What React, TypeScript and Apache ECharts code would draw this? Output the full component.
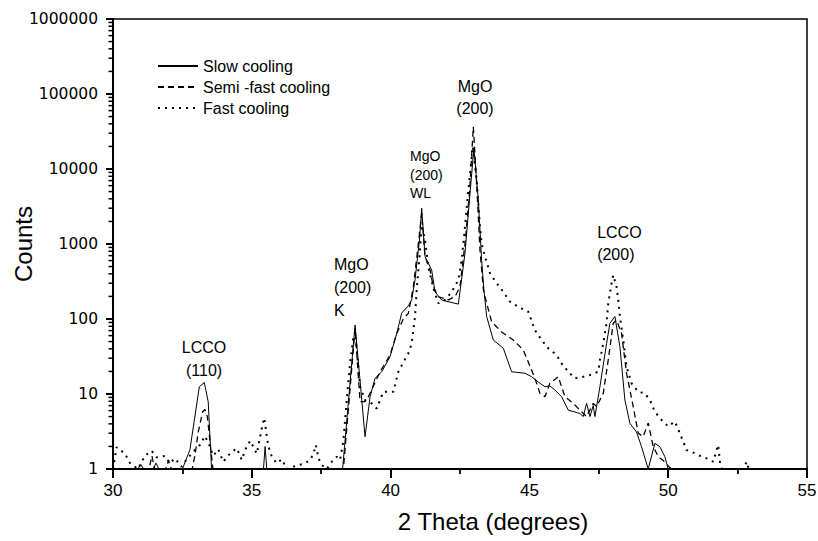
import React, { useEffect, useRef } from "react";
import * as echarts from "echarts";

const FONT = '"Liberation Sans", Arial, Helvetica, sans-serif';
const YFONT = '"DejaVu Sans", "Liberation Sans", sans-serif';

const seriesNames = ["Slow cooling", "Semi -fast cooling", "Fast cooling"];

const slowCooling: [number, number][] = [
  [30, 1], [30.9, 1], [31.0, 1.15], [31.1, 1], [31.45, 1], [31.55, 1.2], [31.65, 1], [32.5, 1],
  [32.77, 1.8], [33.11, 12.5], [33.29, 14.2], [33.43, 7.9], [33.55, 1], [35.42, 1], [35.48, 2.0],
  [35.54, 1], [38.27, 1], [38.72, 83], [39.08, 2.7], [39.26, 9.2], [39.44, 16.2], [39.68, 19.8],
  [39.98, 31.4], [40.22, 64], [40.4, 120], [40.64, 150], [40.76, 180], [40.88, 331], [41.04, 1133],
  [41.12, 3000], [41.24, 679], [41.36, 553], [41.48, 450], [41.6, 230], [41.84, 179], [42.44, 158],
  [42.68, 753], [42.86, 4700], [43.0, 18900], [43.16, 3870], [43.28, 600], [43.36, 250], [43.46, 108],
  [43.7, 52.5], [44.06, 40.7], [44.36, 19.8], [44.84, 18.9], [45.08, 17], [45.38, 13.9], [45.56, 12.5],
  [45.74, 12.8], [45.92, 11.3], [46.16, 9.2], [46.4, 6.1], [46.82, 5.5], [46.94, 5.0], [47.06, 7.5],
  [47.18, 5.0], [47.3, 7], [47.36, 5], [47.54, 12.5], [47.78, 47], [47.9, 87.6], [48.08, 108],
  [48.26, 42.8], [48.44, 8.3], [48.62, 4.07], [48.86, 3.1], [49.04, 1.98], [49.28, 1], [49.52, 2.2],
  [49.7, 1.98], [49.88, 1.46], [50.0, 1], [55, 1],
];

const semiFastCooling: [number, number][] = [
  [30, 1], [31.3, 1], [31.4, 1.5], [31.5, 1], [31.9, 1], [32.0, 1.3], [32.1, 1], [32.85, 1],
  [32.95, 1.5], [33.07, 3.1], [33.23, 5.8], [33.31, 6.2], [33.4, 5.0], [33.6, 1], [38.3, 1],
  [38.72, 75], [38.9, 7.9], [39.08, 7.9], [39.2, 9.2], [39.62, 19.8], [39.98, 33], [40.22, 64],
  [40.46, 101], [40.64, 119], [40.82, 270], [41.0, 1010], [41.12, 2560], [41.24, 680], [41.42, 450],
  [41.54, 270], [41.72, 198], [42.08, 180], [42.32, 198], [42.5, 270], [42.68, 1010], [42.84, 4700],
  [42.98, 36600], [43.1, 6400], [43.22, 830], [43.34, 250], [43.4, 198], [43.64, 92], [44.0, 67],
  [44.42, 52.5], [44.78, 38.6], [45.08, 20.9], [45.26, 13.9], [45.38, 10.2], [45.56, 9.2],
  [45.74, 13.9], [46.04, 17], [46.28, 9.2], [46.58, 7.5], [46.82, 6.1], [47.06, 5.0], [47.3, 7.5],
  [47.42, 6.8], [47.66, 10.2], [47.84, 28.4], [48.02, 88], [48.14, 97], [48.32, 64], [48.5, 18.9],
  [48.74, 6.8], [48.92, 3.0], [49.1, 2.7], [49.28, 4.1], [49.46, 2.0], [49.64, 1.46], [49.82, 1.3],
  [50.0, 1.1], [50.12, 1], [55, 1],
];

const fastCooling: [number, number][] = [
  [30, 1], [30.13, 1.95], [30.43, 1.6], [30.61, 1.2], [30.9, 1], [31.15, 1.5], [31.39, 1.75],
  [31.57, 1.43], [31.87, 1.49], [32.05, 1.19], [32.23, 1.39], [32.47, 1.07], [32.65, 1.34],
  [32.95, 1.79], [33.13, 2.09], [33.31, 2.75], [33.47, 2.09], [33.61, 1.5], [33.79, 1.83],
  [33.97, 1.25], [34.21, 1.6], [34.46, 1.89], [34.64, 1.32], [34.76, 1.79], [34.94, 2.38],
  [35.18, 1.6], [35.36, 3.5], [35.45, 4.8], [35.54, 2.7], [35.6, 2.0], [35.72, 1.46], [35.9, 1.19],
  [36.08, 1.35], [36.26, 1], [36.68, 1.13], [36.92, 1.19], [37.1, 1.32], [37.22, 1.6], [37.31, 2.09],
  [37.4, 1.39], [37.52, 1.13], [37.7, 1], [37.88, 1.25], [38.06, 1.46], [38.18, 1.32], [38.3, 2.4],
  [38.42, 8.3], [38.54, 25.6], [38.66, 58], [38.72, 67], [38.78, 38.6], [38.9, 12.5], [39.08, 8.3],
  [39.32, 7.5], [39.5, 6.4], [39.62, 8.3], [39.74, 10.7], [40.1, 10.7], [40.28, 19.8], [40.46, 26.6],
  [40.64, 34.8], [40.76, 47], [40.88, 108], [40.94, 244], [41.04, 680], [41.12, 1800], [41.24, 1130],
  [41.36, 500], [41.54, 256], [41.72, 162], [41.96, 180], [42.2, 230], [42.44, 330], [42.56, 610],
  [42.68, 1700], [42.8, 5200], [42.96, 20000], [43.1, 7100], [43.22, 1700], [43.28, 1010],
  [43.4, 680], [43.58, 407], [43.82, 300], [44.06, 230], [44.3, 170], [44.6, 145], [44.96, 125],
  [45.2, 71], [45.44, 52.5], [45.68, 40.7], [45.98, 33], [46.16, 25.6], [46.4, 19.8], [46.64, 16.2],
  [46.94, 17], [47.18, 17.9], [47.48, 19.8], [47.54, 28.4], [47.66, 47], [47.78, 88], [47.84, 162],
  [47.9, 219], [47.96, 300], [48.02, 385], [48.14, 270], [48.2, 180], [48.26, 108], [48.38, 52.5],
  [48.5, 23.1], [48.68, 13.9], [48.92, 10.7], [49.16, 10.2], [49.34, 8.3], [49.52, 5.8], [49.76, 4.5],
  [50.0, 3.7], [50.24, 4.3], [50.42, 3.0], [50.66, 1.79], [50.84, 1.7], [51.14, 1.5], [51.38, 1.39],
  [51.62, 1.25], [51.8, 2.09], [51.87, 1.19], [51.93, 1], [52.7, 1], [52.83, 1.25], [52.9, 1], [55, 1],
];

const xTicks = [30, 35, 40, 45, 50, 55];
const yDecades = [1, 10, 100, 1000, 10000, 100000, 1000000];
const yAxisTitle = "Counts";

// annotation: text, anchor x (2θ), anchor y (counts), alignment, font size, line height
const annotations = [
  { text: "LCCO\n(110)", x: 33.28, y: 60, align: "center", size: 16, lh: 23 },
  { text: "MgO\n(200)\nK", x: 37.96, y: 770, align: "left", size: 16, lh: 23 },
  { text: "MgO\n(200)\nWL", x: 40.7, y: 19800, align: "left", size: 14, lh: 18.5 },
  { text: "MgO\n(200)", x: 43.04, y: 179000, align: "center", size: 16, lh: 22 },
  { text: "LCCO\n(200)", x: 47.44, y: 1965, align: "left", size: 16, lh: 22 },
];

export default function App() {
  const ref = useRef<HTMLDivElement>(null);
  useEffect(() => {
    document.body.style.margin = "0";
    const chart = echarts.init(ref.current!, null, { renderer: "svg" });
    const option: any = {
      animation: false,
      backgroundColor: "#ffffff",
      textStyle: { fontFamily: FONT },
      grid: {
        left: 113, right: 11, top: 19, bottom: 72,
        containLabel: false,
        outerBoundsMode: "none",
        show: true, borderColor: "#000", borderWidth: 1.5, backgroundColor: "transparent",
      },
      legend: {
        data: seriesNames,
        orient: "vertical",
        left: 152,
        top: 53,
        itemWidth: 40,
        itemHeight: 12,
        itemGap: 5,
        itemStyle: { opacity: 0 },
        textStyle: { fontSize: 16, color: "#000", fontFamily: FONT },
      },
      xAxis: {
        type: "value",
        min: xTicks[0],
        max: xTicks[xTicks.length - 1],
        interval: 5,
        name: "2 Theta (degrees)",
        nameLocation: "middle",
        nameGap: 40,
        nameTextStyle: { fontSize: 24, color: "#000", fontFamily: FONT, padding: [0, 0, 0, 66] },
        axisLine: { show: true, onZero: false, lineStyle: { color: "#000", width: 2 } },
        axisTick: { show: true, length: 9, lineStyle: { color: "#000", width: 2 } },
        minorTick: { show: true, splitNumber: 2, length: 5, lineStyle: { color: "#000", width: 1.8 } },
        axisLabel: { show: true, fontSize: 17, color: "#000", margin: 13, fontFamily: FONT },
        splitLine: { show: false },
      },
      yAxis: {
        type: "log",
        logBase: 10,
        min: yDecades[0],
        max: yDecades[yDecades.length - 1],
        axisLine: { show: true, onZero: false, lineStyle: { color: "#000", width: 2 } },
        axisTick: { show: true, length: 7, lineStyle: { color: "#000", width: 2 } },
        axisLabel: {
          show: true, fontSize: 15.5, color: "#000", margin: 15, fontFamily: YFONT,
          formatter: (v: number) => String(Math.round(v)),
        },
        splitLine: { show: false },
      },
      series: [
        {
          name: seriesNames[0], type: "line", data: slowCooling, symbol: "none",
          lineStyle: { color: "#000", width: 1, type: "solid" }, itemStyle: { color: "#000" },
        },
        {
          name: seriesNames[1], type: "line", data: semiFastCooling, symbol: "none",
          lineStyle: { color: "#000", width: 1.3, type: [6, 4] }, itemStyle: { color: "#000" },
        },
        {
          name: seriesNames[2], type: "line", data: fastCooling, symbol: "none",
          lineStyle: { color: "#000", width: 2, type: [2, 5] }, itemStyle: { color: "#000" },
        },
      ],
    };
    chart.setOption(option);

    const toPx = (x: number, y: number) =>
      chart.convertToPixel({ gridIndex: 0 }, [x, y]) as number[];
    const graphics: any[] = [];
    const origin = toPx(xTicks[0], yDecades[0]);
    const topLeft = toPx(xTicks[0], yDecades[yDecades.length - 1]);
    // y-axis minor ticks at 2..9 × each decade, drawn outward
    yDecades.forEach((d, i) => {
      if (i < yDecades.length - 1) {
        for (let m = 2; m <= 9; m++) {
          const pm = toPx(xTicks[0], m * d)[1];
          graphics.push({
            type: "rect",
            shape: { x: origin[0] - 4.5, y: pm - 0.75, width: 4.5, height: 1.5 },
            style: { fill: "#000" },
            silent: true,
            z: 10,
          });
        }
      }
    });
    // y-axis title, rotated, centred on the plot's height
    graphics.push({
      type: "text",
      x: origin[0] - 90,
      y: (origin[1] + topLeft[1]) / 2,
      rotation: Math.PI / 2,
      style: {
        text: yAxisTitle,
        font: `24px ${FONT}`,
        fill: "#000",
        align: "center",
        verticalAlign: "middle",
      },
      silent: true,
    });
    annotations.forEach((a) => {
      const p = toPx(a.x, a.y);
      graphics.push({
        type: "text",
        x: p[0],
        y: p[1],
        style: {
          text: a.text,
          font: `${a.size}px ${FONT}`,
          fill: "#000",
          align: a.align,
          verticalAlign: "top",
          lineHeight: a.lh,
        },
        silent: true,
      });
    });
    chart.setOption({ graphic: graphics });

    return () => chart.dispose();
  }, []);
  return <div ref={ref} style={{ width: 818, height: 541 }} />;
}
